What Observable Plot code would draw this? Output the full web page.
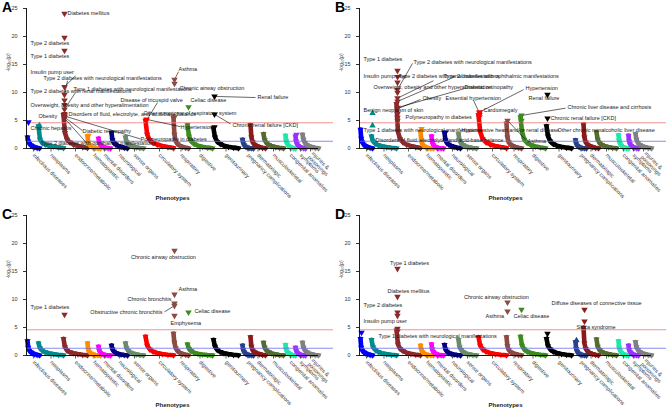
<!DOCTYPE html>
<html><head><meta charset="utf-8">
<script src="https://cdn.jsdelivr.net/npm/d3@7"></script>
<script src="https://cdn.jsdelivr.net/npm/@observablehq/plot@0.6"></script>
<style>
body{margin:0;background:#fff;}
#wrap{position:relative;width:666px;height:411px;overflow:hidden;font-family:"Liberation Sans",Arial,sans-serif;background:#fff;}
.panel{position:absolute;width:333px;height:204px;}
.letter{position:absolute;font-weight:bold;font-size:14px;left:2px;top:-1px;color:#000;}
</style></head><body><div id="wrap"></div>
<script>
// Phenotype categories (PheWAS groups)
const categories = ["infectious diseases","neoplasms","endocrine/metabolic","hematopoietic","mental disorders","neurological","sense organs","circulatory system","respiratory","digestive","genitourinary","pregnancy complications","dermatologic","musculoskeletal","congenital anomalies","symptoms","injuries &\npoisonings"];
// phenotype index range of each category along the x axis
const catStart = [1,12,37,61,72,85,99,119,147,161,187,216,224,237,259,269,276];
const catEnd   = [13,37,61,74,84,101,117,147,162,186,212,227,239,257,269,279,292];
const catColors = ["#0000ff","#008b8b","#8b2a2a","#ff8c00","#ff00ff","#000080","#698b69","#ff0000","#8b4a42","#3d8b1f","#000000","#27408b","#8b1a1a","#556b2f","#1de9a6","#9b30ff","#808080"];
// relative rank of the sampled sorted phenotypes in a category
const rankSteps = [0,0.06,0.15,0.27,0.42,0.6,0.8,1];
const yTicks = [0,5,10,15,20,25];
const bonferroni = 4.6;
const nominal = 1.3;

// sorted -log10(p) of background phenotypes, per category
const curvesA = [[2.0,1.3,0.9,0.6,0.4,0.25,0.12,0.05],[4.0,1.6,1.0,0.7,0.5,0.35,0.2,0.1],[6.0,2.8,1.6,1.1,0.7,0.45,0.25,0.1],[2.2,1.0,0.6,0.35,0.2,0.1,0.05,0.02],[1.8,1.0,0.6,0.4,0.25,0.15,0.08,0.03],[2.8,1.5,1.0,0.7,0.45,0.3,0.15,0.05],[2.0,1.2,0.8,0.55,0.35,0.2,0.1,0.04],[5.0,2.5,1.5,1.0,0.7,0.45,0.25,0.08],[5.5,2.5,1.3,0.8,0.5,0.3,0.15,0.05],[4.2,2.2,1.3,0.8,0.5,0.3,0.15,0.05],[3.6,2.0,1.2,0.8,0.5,0.3,0.15,0.05],[1.6,1.0,0.6,0.35,0.2,0.1,0.05,0.02],[4.2,2.0,1.1,0.7,0.45,0.25,0.12,0.04],[2.6,1.5,1.0,0.65,0.4,0.25,0.12,0.04],[2.3,1.4,0.9,0.55,0.3,0.15,0.07,0.02],[2.2,1.3,0.8,0.5,0.3,0.15,0.07,0.02],[2.5,1.6,1.0,0.65,0.4,0.25,0.12,0.04]];
const curvesB = [[3.4,1.8,1.1,0.7,0.45,0.28,0.14,0.05],[2.2,1.3,0.9,0.6,0.4,0.25,0.12,0.04],[8.0,3.0,1.7,1.1,0.7,0.45,0.25,0.1],[3.0,1.3,0.7,0.4,0.2,0.1,0.05,0.02],[2.2,1.1,0.6,0.35,0.2,0.1,0.05,0.02],[2.8,1.5,1.0,0.7,0.45,0.3,0.15,0.05],[2.6,1.4,0.9,0.6,0.35,0.2,0.1,0.04],[6.0,3.0,1.7,1.1,0.7,0.45,0.25,0.08],[4.5,2.0,1.1,0.7,0.45,0.28,0.14,0.05],[5.6,3.0,1.6,1.0,0.6,0.35,0.18,0.06],[4.0,2.2,1.3,0.8,0.5,0.3,0.15,0.05],[1.5,0.9,0.55,0.35,0.2,0.1,0.05,0.02],[4.3,2.0,1.1,0.7,0.45,0.25,0.12,0.04],[2.9,1.6,1.0,0.65,0.4,0.25,0.12,0.04],[2.4,1.4,0.9,0.55,0.3,0.15,0.07,0.02],[2.3,1.3,0.8,0.5,0.3,0.15,0.07,0.02],[2.6,1.6,1.0,0.65,0.4,0.25,0.12,0.04]];
const curvesC = [[2.6,1.4,0.9,0.6,0.4,0.25,0.12,0.04],[2.2,1.3,0.9,0.6,0.4,0.25,0.12,0.04],[3.0,1.5,0.9,0.6,0.4,0.25,0.12,0.04],[2.2,1.0,0.6,0.35,0.2,0.1,0.05,0.02],[1.6,0.9,0.5,0.3,0.18,0.1,0.05,0.02],[1.8,1.1,0.7,0.45,0.3,0.18,0.09,0.03],[2.2,1.3,0.85,0.55,0.35,0.2,0.1,0.04],[3.4,1.8,1.1,0.7,0.45,0.28,0.14,0.05],[3.9,2.3,1.3,0.8,0.5,0.3,0.15,0.05],[2.0,1.2,0.8,0.5,0.3,0.18,0.09,0.03],[2.8,1.6,1.0,0.65,0.4,0.25,0.12,0.04],[1.8,1.0,0.6,0.35,0.2,0.1,0.05,0.02],[3.3,1.6,0.9,0.6,0.4,0.25,0.12,0.04],[2.3,1.4,0.9,0.6,0.35,0.2,0.1,0.04],[1.9,1.1,0.7,0.45,0.25,0.13,0.06,0.02],[1.4,0.9,0.55,0.35,0.2,0.1,0.05,0.02],[2.3,1.4,0.9,0.6,0.35,0.2,0.1,0.04]];
const curvesD = [[3.0,1.4,0.9,0.6,0.4,0.25,0.12,0.04],[2.8,1.5,1.0,0.65,0.4,0.25,0.12,0.04],[4.5,2.0,1.2,0.8,0.5,0.3,0.15,0.05],[1.8,1.0,0.6,0.35,0.2,0.1,0.05,0.02],[2.0,1.1,0.65,0.4,0.22,0.12,0.06,0.02],[1.9,1.1,0.7,0.45,0.3,0.18,0.09,0.03],[2.8,1.5,1.0,0.6,0.35,0.2,0.1,0.04],[3.3,1.8,1.1,0.7,0.45,0.28,0.14,0.05],[3.3,1.7,1.0,0.6,0.4,0.25,0.12,0.04],[3.4,1.8,1.1,0.7,0.45,0.28,0.14,0.05],[3.0,1.7,1.1,0.7,0.45,0.28,0.14,0.05],[2.4,1.2,0.7,0.4,0.22,0.12,0.06,0.02],[5.0,2.2,1.2,0.75,0.45,0.28,0.14,0.05],[2.9,1.6,1.0,0.65,0.4,0.25,0.12,0.04],[2.6,1.4,0.9,0.55,0.3,0.15,0.07,0.02],[1.8,1.0,0.6,0.4,0.22,0.12,0.06,0.02],[2.4,1.5,1.0,0.65,0.4,0.25,0.12,0.04]];

// top phenotypes: [category index, -log10(p), direction, name]
const pointsA = [[2,24.1,"d","Diabetes mellitus"],[2,19.8,"d","Type 2 diabetes"],[2,17.5,"d","Type 1 diabetes"],[2,11.0,"d","Insulin pump user"],[2,9.6,"d","Type 2 diabetes with neurological manifestations"],[2,8.6,"d","Type 2 diabetes with renal manifestations"],[2,7.0,"d","Type 1 diabetes with neurological manifestations"],[2,7.8,"d","Overweight, obesity and other hyperalimentation"],[2,6.2,"d","Obesity"],[2,6.0,"d","Disorders of fluid, electrolyte, and acid-base balance"],[0,4.7,"d","Chronic hepatitis"],[2,5.6,"d","Diabetic retinopathy"],[2,5.4,"d","Type 2 diabetes with ophthalmic manifestations"],[2,5.8,"d","Polyneuropathy in diabetes"],[7,5.0,"d","Disease of tricuspid valve"],[7,5.2,"d","Hypertension"],[8,12.3,"d","Asthma"],[8,11.6,"d","Chronic airway obstruction"],[8,5.6,"d","Other symptoms of respiratory system"],[9,7.4,"d","Celiac disease"],[10,9.3,"d","Renal failure"],[10,6.1,"d","Chronic renal failure [CKD]"],[10,3.8,"d",""],[3,2.3,"d",""],[15,2.5,"d",""],[1,4.1,"u",""]];
const pointsB = [[2,13.9,"d","Type 1 diabetes"],[2,10.5,"d","Type 2 diabetes with neurological manifestations"],[2,11.8,"d","Insulin pump user"],[2,9.0,"d","Type 2 diabetes with renal manifestations"],[2,8.4,"d","Type 2 diabetes with ophthalmic manifestations"],[2,10.0,"d","Overweight, obesity and other hyperalimentation"],[2,7.3,"d","Diabetic retinopathy"],[7,6.5,"d","Hypertension"],[10,9.6,"d","Renal failure"],[2,7.1,"d","Obesity"],[7,6.3,"d","Essential hypertension"],[1,6.3,"u","Benign neoplasm of skin"],[7,6.0,"d","Cardiomegaly"],[9,5.9,"d","Chronic liver disease and cirrhosis"],[2,6.2,"d","Polyneuropathy in diabetes"],[10,5.4,"d","Chronic renal failure [CKD]"],[8,5.0,"d","Asthma"],[2,5.5,"d","Type 1 diabetes with neurological manifestations"],[7,5.6,"d","Hypertensive heart and/or renal disease"],[9,5.0,"d","Other chronic nonalcoholic liver disease"],[2,5.0,"d","Disorders of fluid, electrolyte, and acid-base balance"],[2,12.8,"d",""],[1,4.1,"u",""],[3,3.5,"d",""],[5,2.9,"d",""]];
const pointsC = [[2,7.3,"d","Type 1 diabetes"],[8,18.75,"d","Chronic airway obstruction"],[8,10.9,"d","Asthma"],[8,9.3,"d","Chronic bronchitis"],[8,8.9,"d","Obstructive chronic bronchitis"],[8,7.1,"d","Emphysema"],[9,7.7,"d","Celiac disease"]];
const pointsD = [[2,15.5,"d","Type 1 diabetes"],[2,10.5,"d","Diabetes mellitus"],[2,7.7,"d","Type 2 diabetes"],[2,4.8,"d","Insulin pump user"],[2,4.3,"d","Type 1 diabetes with neurological manifestations"],[8,9.5,"d","Chronic airway obstruction"],[8,7.9,"d","Asthma"],[9,8.2,"d","Celiac disease"],[12,8.2,"d","Diffuse diseases of connective tissue"],[12,6.1,"d","Sicca syndrome"],[2,7.1,"d",""],[0,4.1,"d",""],[10,3.9,"d",""],[11,2.7,"u",""]];

// label placement: [label x, label y, anchor, leader end x, leader end y]
const labelPosA = [[41,24.1,"start"],[4,18.75,"start"],[4,16.4,"start"],[4,13.6,"start",49,13.0],[17,12.5,"start",41,12.1],[4,10.2,"start"],[47,10.5,"start",49,10.0],[4,7.7,"start"],[12,5.7,"start"],[42,6.1,"start"],[4,3.6,"start"],[56,3.0,"start",56,3.2],[14,0.9,"start",60,1.0],[114,1.6,"start",114,1.7],[94,8.6,"start",131,8.2],[154,3.75,"start",154,3.9],[152,14.1,"start",152,13.7],[153,10.7,"start"],[117,6.25,"start"],[164,8.6,"start"],[231,9.1,"start",229,9.1],[206,4.1,"start",204,4.4]];
const labelPosB = [[4,15.9,"start"],[54,15.4,"start",53,15.2],[4,12.9,"start"],[39,12.9,"start",74,12.1],[84,12.9,"start",94,12.7],[14,10.9,"start"],[105,10.9,"start",105,10.7],[166,10.7,"start",164,10.5],[169,8.9,"start"],[63,8.9,"start",61,8.75],[86,8.9,"start",114,8.6],[4,6.8,"start"],[124,6.8,"start"],[208,7.3,"start",206,7.2],[46,5.5,"start"],[191,5.35,"start"],[168,1.25,"start",166,1.6],[4,3.2,"start"],[102,3.2,"start"],[198,3.2,"start"],[16,1.4,"start"]];
const labelPosC = [[4,8.6,"start"],[137,17.5,"middle"],[152,11.8,"start"],[145,10.0,"end"],[136,7.7,"end",138,7.8],[144,5.7,"start"],[168,7.85,"start"]];
const labelPosD = [[50,16.4,"middle"],[49,11.4,"middle"],[4,8.9,"start"],[4,6.1,"start"],[19,3.4,"start"],[137,10.4,"middle"],[126,7.0,"start"],[154,7.0,"start"],[192,9.3,"start"],[217,5.0,"start"]];

const mids = catStart.map((s,i)=>(s+catEnd[i])/2);
const midName = new Map(mids.map((m,i)=>[m,categories[i]]));
const triDown = {draw(ctx,size){const y=Math.sqrt(size/(Math.sqrt(3)*3));ctx.moveTo(0,2*y);ctx.lineTo(-Math.sqrt(3)*y,-y);ctx.lineTo(Math.sqrt(3)*y,-y);ctx.closePath();}};
const vTick = {draw(ctx){ctx.moveTo(0,0);ctx.lineTo(0,3);}};

function makePanel(curves, points, labelPos){
  const curveData = curves.flatMap((vals,ci)=>vals.map((v,k)=>({ci, x: catStart[ci]+rankSteps[k]*(catEnd[ci]-catStart[ci]), v})));
  const pts = points.map((p,i)=>({ci:p[0], x:catStart[p[0]]+1, v:p[1], dir:p[2], label:p[3], pos:labelPos[i]}));
  const lab = pts.filter(d=>d.label && d.pos).map(d=>({...d, lx:d.pos[0], ly:d.pos[1], anchor:d.pos[2], tx:d.pos[3], ty:d.pos[4]}));
  const col = d=>catColors[d.ci];
  return Plot.plot({
    width:333, height:204, marginLeft:26, marginRight:15, marginTop:8, marginBottom:56,
    x:{domain:[0,292], axis:null}, y:{domain:[0,25]},
    style:{fontFamily:"Liberation Sans, Arial, sans-serif", fontSize:"5.5px", background:"white", overflow:"visible", color:"#333"},
    marks:[
      Plot.line(curveData,{x:"x",y:"v",z:"ci",stroke:col,strokeWidth:4.6,strokeLinecap:"round",strokeLinejoin:"round"}),
      Plot.dot(curveData,{x:"x",y:"v",symbol:triDown,r:2.3,fill:col}),
      Plot.ruleY([bonferroni],{x1:0,x2:307,stroke:"#ef7f7f",strokeOpacity:0.85,strokeWidth:1.2}),
      Plot.ruleY([nominal],{x1:0,x2:307,stroke:"#6f6fef",strokeOpacity:0.8,strokeWidth:1.1}),
      Plot.link(lab.filter(d=>d.tx!=null),{x1:"x",y1:"v",x2:"tx",y2:"ty",stroke:"#000",strokeWidth:0.6}),
      Plot.dot(pts.filter(d=>d.dir==="d"),{x:"x",y:"v",symbol:triDown,r:2.4,fill:col}),
      Plot.dot(pts.filter(d=>d.dir==="u"),{x:"x",y:"v",symbol:"triangle",r:2.4,fill:col}),
      ...["start","middle","end"].map(a=>Plot.text(lab.filter(d=>d.anchor===a),{x:"lx",y:"ly",text:"label",textAnchor:a,fontSize:5.5,fill:"#1a1a1a"})),
      Plot.ruleY([0],{stroke:"#000",strokeWidth:0.9}),
      Plot.ruleX([0],{stroke:"#000",strokeWidth:0.9}),
      Plot.axisY({ticks:yTicks,tickSize:3,fontSize:5.5,label:null,fill:"#333",stroke:"#333"}),
      Plot.dot(mids,{x:d=>d,frameAnchor:"bottom",symbol:vTick,r:2,stroke:"#333",fill:"none",strokeWidth:0.8}),
      Plot.text(mids,{x:d=>d,frameAnchor:"bottom",text:d=>midName.get(d),rotate:45,textAnchor:"start",lineAnchor:"middle",dy:6,fontSize:5.5,fill:"#333"}),
      Plot.text(["-log₁₀(p)"],{frameAnchor:"left",dx:-18,dy:-7,rotate:-90,fontSize:5,fill:"#333"}),
      Plot.text(["Phenotypes"],{frameAnchor:"bottom",dy:51,fontWeight:"bold",fontSize:6,fill:"#222"})
    ]
  });
}

const wrap = document.getElementById("wrap");
const panels = [["A",curvesA,pointsA,labelPosA,0,0],["B",curvesB,pointsB,labelPosB,333,0],["C",curvesC,pointsC,labelPosC,0,207],["D",curvesD,pointsD,labelPosD,333,207]];
for (const [letter,c,p,l,left,top] of panels){
  const div = document.createElement("div");
  div.className = "panel"; div.style.left = left+"px"; div.style.top = top+"px";
  div.appendChild(makePanel(c,p,l));
  const lt = document.createElement("div"); lt.className = "letter"; lt.textContent = letter;
  div.appendChild(lt);
  wrap.appendChild(div);
}
</script></body></html>
